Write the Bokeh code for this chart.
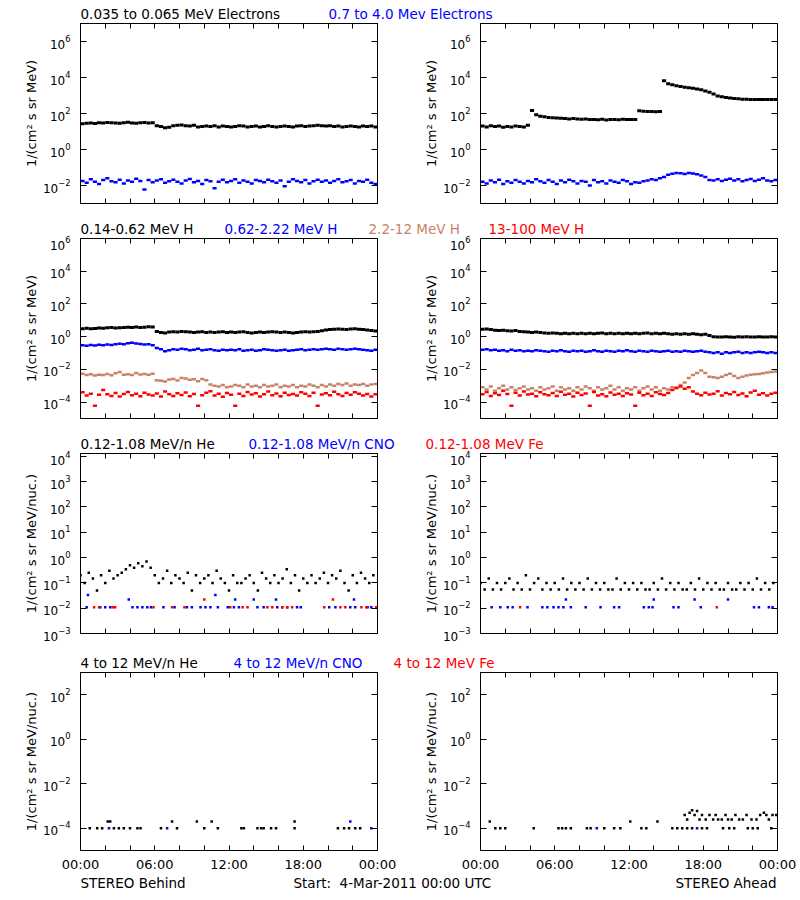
from bokeh.plotting import figure
from bokeh.models import FixedTicker, LinearAxis, LogAxis, Range1d
from bokeh.layouts import column, row
from bokeh.embed import file_html
from bokeh.resources import INLINE
from bokeh.core.properties import value

# ---------------- data (hours after 4-Mar-2011 00:00 UTC) ----------------
T20 = [i / 3 for i in range(72)]  # 20-minute cadence (start of each sample)
STEP = 1 / 3                      # sample length in hours

# Row 1: electrons, 1/(cm2 s sr MeV)
beh_e_low = [27, 29, 30, 28, 31, 30, 32, 31, 30, 29, 31, 33, 30, 29, 31, 32, 30, 31,
             21, 19, 16, 17, 21, 22, 23, 21, 20, 22, 18, 19, 20, 19, 21, 18, 20, 19,
             18, 19, 21, 20, 18, 19, 20, 18, 19, 21, 19, 18, 19, 20, 19, 18, 20, 21,
             19, 20, 21, 22, 21, 20, 21, 19, 20, 18, 19, 20, 19, 18, 20, 19, 20, 18]
beh_e_high = [0.018, 0.014, 0.022, 0.016, 0.012, 0.020, 0.025, 0.017, 0.015, 0.021, 0.013, 0.019,
              0.016, 0.024, 0.018, 0.006, 0.020, 0.015, 0.019, 0.022, 0.014, 0.017, 0.021, 0.016,
              0.013, 0.019, 0.023, 0.015, 0.018, 0.012, 0.020, 0.017, 0.007, 0.016, 0.021, 0.015,
              0.018, 0.022, 0.014, 0.019, 0.016, 0.013, 0.020, 0.018, 0.015, 0.021, 0.017, 0.014,
              0.019, 0.009, 0.016, 0.022, 0.018, 0.015, 0.020, 0.013, 0.017, 0.021, 0.016, 0.019,
              0.014, 0.018, 0.022, 0.015, 0.017, 0.020, 0.013, 0.018, 0.016, 0.021, 0.014, 0.012]
ahd_e_low = [20, 18, 21, 19, 20, 17, 19, 18, 20, 19, 18, 22,
             145, 85, 70, 65, 60, 58, 56, 55, 53, 50, 52, 49,
             48, 50, 46, 47, 45, 48, 44, 46, 47, 45, 48, 46,
             47, 46, 140, 135, 130, 128, 125, 130, 6500, 4500, 3900, 3500,
             3200, 2900, 2700, 2500, 2300, 2100, 1800, 1500, 1200, 950, 850, 780,
             720, 680, 650, 620, 610, 600, 605, 600, 598, 600, 602, 600]
ahd_e_high = [0.016, 0.013, 0.019, 0.015, 0.021, 0.012, 0.017, 0.014, 0.020, 0.016, 0.013, 0.018,
              0.015, 0.022, 0.017, 0.014, 0.020, 0.016, 0.012, 0.019, 0.015, 0.021, 0.017, 0.013,
              0.018, 0.016, 0.010, 0.020, 0.015, 0.017, 0.013, 0.019, 0.016, 0.014, 0.020, 0.017,
              0.012, 0.015, 0.014, 0.017, 0.019, 0.022, 0.020, 0.025, 0.030, 0.040, 0.045, 0.050,
              0.048, 0.044, 0.050, 0.046, 0.042, 0.036, 0.030, 0.020, 0.019, 0.022, 0.018, 0.021,
              0.024, 0.019, 0.022, 0.017, 0.020, 0.023, 0.018, 0.021, 0.025, 0.019, 0.017, 0.020]

# Row 2: protons, 1/(cm2 s sr MeV)
beh_h1 = [3.1, 3.3, 3.0, 3.2, 3.4, 3.3, 3.5, 3.6, 3.4, 3.5, 3.7, 3.8,
          3.6, 3.9, 3.7, 3.8, 4.0, 3.9, 2.1, 1.8, 1.7, 1.9, 2.0, 1.9,
          2.1, 2.0, 1.9, 1.8, 1.9, 2.0, 1.8, 1.9, 1.8, 1.9, 2.0, 1.8,
          1.9, 1.8, 1.9, 2.0, 1.8, 1.7, 1.8, 1.9, 1.8, 1.9, 2.0, 1.9,
          1.8, 1.9, 1.8, 1.7, 1.8, 1.9, 2.0, 1.9, 2.0, 2.1, 2.3, 2.6,
          2.7, 2.8, 2.9, 2.8, 2.7, 2.9, 3.0, 2.8, 2.7, 2.6, 2.4, 2.2]
beh_h2 = [0.30, 0.28, 0.31, 0.29, 0.32, 0.30, 0.33, 0.31, 0.35, 0.37, 0.34, 0.40,
          0.42, 0.38, 0.36, 0.33, 0.35, 0.30, 0.20, 0.17, 0.13, 0.15, 0.17, 0.16,
          0.18, 0.17, 0.15, 0.16, 0.18, 0.15, 0.16, 0.17, 0.15, 0.14, 0.16, 0.15,
          0.16, 0.15, 0.17, 0.14, 0.15, 0.16, 0.14, 0.15, 0.17, 0.16, 0.15, 0.14,
          0.15, 0.16, 0.14, 0.15, 0.16, 0.17, 0.15, 0.16, 0.17, 0.16, 0.17, 0.18,
          0.17, 0.16, 0.18, 0.17, 0.16, 0.17, 0.18, 0.17, 0.16, 0.15, 0.14, 0.16]
beh_h3 = [0.0055, 0.0045, 0.0050, 0.0042, 0.0048, 0.0046, 0.0052, 0.0044, 0.0058, 0.0070, 0.0047, 0.0051,
          0.0045, 0.0060, 0.0049, 0.0053, 0.0047, 0.0055, 0.0022, 0.0020, 0.0018, 0.0024, 0.0026, 0.0021,
          0.0030, 0.0028, 0.0023, 0.0025, 0.0019, 0.0026, 0.0022, 0.0012, 0.0010, 0.0009, 0.0011, 0.0008,
          0.0009, 0.0011, 0.0010, 0.0008, 0.0012, 0.0009, 0.0010, 0.0008, 0.0011, 0.0009, 0.0010, 0.0012,
          0.0008, 0.0010, 0.0009, 0.0011, 0.0008, 0.0010, 0.0009, 0.0012, 0.0010, 0.0008, 0.0011, 0.0009,
          0.0012, 0.0010, 0.0013, 0.0011, 0.0014, 0.0010, 0.0012, 0.0011, 0.0013, 0.0010, 0.0012, 0.0013]
beh_h4 = [4.0e-4, 2.5e-4, 3.2e-4, 6e-5, 2.8e-4, 5.5e-4, 3.0e-4, 2.4e-4, 3.6e-4, 2.2e-4, 3.1e-4, 4.2e-4,
          2.6e-4, 3.3e-4, 2.3e-4, 3.8e-4, 2.9e-4, 2.5e-4, 3.4e-4, 2.2e-4, 4.5e-4, 3.0e-4, 2.4e-4, 3.5e-4,
          2.7e-4, 3.9e-4, 2.3e-4, 3.1e-4, 6e-5, 2.6e-4, 3.7e-4, 4.6e-4, 2.5e-4, 3.2e-4, 2.1e-4, 3.6e-4,
          2.8e-4, 6e-5, 3.3e-4, 2.4e-4, 4.1e-4, 2.9e-4, 3.5e-4, 2.2e-4, 3.0e-4, 4.4e-4, 2.6e-4, 3.4e-4,
          2.3e-4, 3.8e-4, 2.7e-4, 3.1e-4, 2.5e-4, 4.0e-4, 3.2e-4, 2.4e-4, 3.7e-4, 6e-5, 2.9e-4, 3.5e-4,
          2.6e-4, 4.3e-4, 3.0e-4, 2.4e-4, 3.6e-4, 2.8e-4, 4.0e-4, 3.3e-4, 2.5e-4, 3.1e-4, 2.2e-4, 3.0e-4]
ahd_h1 = [2.8, 2.9, 2.7, 2.5, 2.4, 2.5, 2.3, 2.2, 2.4, 2.1, 2.0, 1.9,
          1.8, 1.9, 1.8, 1.7, 1.6, 1.7, 1.6, 1.5, 1.6, 1.5, 1.6, 1.5,
          1.6, 1.5, 1.6, 1.5, 1.6, 1.7, 1.5, 1.6, 1.5, 1.6, 1.5, 1.6,
          1.5, 1.6, 1.5, 1.6, 1.7, 1.5, 1.6, 1.5, 1.6, 1.5, 1.4, 1.5,
          1.4, 1.5, 1.4, 1.5, 1.4, 1.3, 1.4, 1.2, 1.0, 0.97, 0.95, 1.0,
          0.96, 0.93, 0.98, 0.95, 1.0, 0.94, 0.96, 0.98, 0.95, 0.97, 1.0, 0.96]
ahd_h2 = [0.16, 0.17, 0.15, 0.16, 0.14, 0.15, 0.13, 0.16, 0.14, 0.15, 0.13, 0.14,
          0.13, 0.15, 0.14, 0.13, 0.12, 0.14, 0.13, 0.15, 0.13, 0.12, 0.14, 0.13,
          0.14, 0.12, 0.13, 0.15, 0.13, 0.12, 0.14, 0.13, 0.12, 0.14, 0.13, 0.15,
          0.13, 0.12, 0.14, 0.13, 0.12, 0.14, 0.13, 0.12, 0.13, 0.14, 0.12, 0.13,
          0.12, 0.14, 0.13, 0.12, 0.13, 0.14, 0.12, 0.11, 0.10, 0.11, 0.09, 0.11,
          0.10, 0.11, 0.12, 0.10, 0.11, 0.10, 0.11, 0.12, 0.11, 0.10, 0.11, 0.10]
ahd_h3 = [8e-4, 6e-4, 9e-4, 5e-4, 7e-4, 1.0e-3, 6e-4, 8e-4, 5.5e-4, 7e-4, 9e-4, 6e-4,
          7e-4, 5e-4, 8e-4, 6e-4, 7e-4, 9e-4, 5e-4, 8e-4, 6e-4, 7e-4, 5e-4, 8e-4,
          6e-4, 9e-4, 7e-4, 5e-4, 8e-4, 6e-4, 7e-4, 1.0e-3, 6e-4, 8e-4, 5e-4, 7e-4,
          6e-4, 8e-4, 5e-4, 7e-4, 9e-4, 6e-4, 8e-4, 5e-4, 7e-4, 6e-4, 8e-4, 7e-4,
          1.1e-3, 1.6e-3, 3.0e-3, 4.5e-3, 6.0e-3, 8.5e-3, 6.0e-3, 3.6e-3, 3.3e-3, 3.0e-3, 3.5e-3, 4.5e-3,
          5.5e-3, 4.0e-3, 3.0e-3, 3.5e-3, 4.2e-3, 4.8e-3, 5.0e-3, 5.2e-3, 5.8e-3, 6.5e-3, 7.0e-3, 7.5e-3]
ahd_h4 = [3.0e-4, 4.2e-4, 2.4e-4, 3.5e-4, 2.7e-4, 5.0e-4, 3.1e-4, 6e-5, 3.8e-4, 2.5e-4, 4.4e-4, 2.9e-4,
          3.3e-4, 2.3e-4, 4.0e-4, 3.0e-4, 2.6e-4, 3.6e-4, 2.4e-4, 4.3e-4, 2.8e-4, 3.2e-4, 2.2e-4, 3.7e-4,
          2.7e-4, 3.4e-4, 6e-5, 4.1e-4, 2.5e-4, 3.0e-4, 2.3e-4, 3.9e-4, 2.8e-4, 3.3e-4, 2.4e-4, 3.5e-4,
          2.9e-4, 6e-5, 3.8e-4, 2.6e-4, 3.2e-4, 2.4e-4, 4.0e-4, 3.1e-4, 2.7e-4, 3.6e-4, 5.5e-4, 7.5e-4,
          9.0e-4, 6.5e-4, 8.0e-4, 4.5e-4, 3.2e-4, 2.6e-4, 3.8e-4, 2.9e-4, 3.3e-4, 4.6e-4, 2.5e-4, 3.6e-4,
          3.0e-4, 4.2e-4, 2.7e-4, 3.4e-4, 2.3e-4, 3.9e-4, 5.0e-4, 2.8e-4, 3.5e-4, 2.5e-4, 3.2e-4, 3.7e-4]

# Row 3: 0.12-1.08 MeV/n ions, 1/(cm2 s sr MeV/nuc.)
beh_he = [0.2, 0.1, 0.25, 0.15, 0.05, 0.2, 0.1, 0.3, 0.15, 0.2, 0.25, 0.35,
          0.5, 0.4, 0.6, 0.45, 0.7, 0.4, 0.2, 0.1, 0.15, 0.3, 0.1, 0.2,
          0.15, 0.1, 0.25, 0.05, 0.2, 0.1, 0.15, 0.2, 0.1, 0.3, 0.15, 0.1,
          0.05, 0.2, 0.1, 0.1, 0.15, 0.2, 0.1, 0.05, 0.25, 0.15, 0.1, 0.2,
          0.1, 0.15, 0.35, 0.1, 0.2, 0.05, 0.15, 0.1, 0.2, 0.1, 0.15, 0.25,
          0.1, 0.2, 0.15, 0.3, 0.1, 0.05, 0.2, 0.1, 0.25, 0.15, 0.1, 0.2]
beh_cno_t = [0.5, 0.6, 1.6, 2.0, 2.4, 3.9, 4.2, 4.6, 5.0, 5.4, 5.7, 6.7, 7.6, 8.6, 9.0, 9.7, 10.1,
             10.5, 10.9, 11.1, 11.9, 12.4, 12.5, 12.8, 14.0, 14.3, 14.8, 15.8, 15.9, 16.3, 16.7,
             17.5, 17.8, 20.1, 20.6, 21.8, 22.1, 22.2, 23.2, 23.5]
beh_cno_v = [0.011, 0.033, 0.011, 0.011, 0.011, 0.022, 0.011, 0.011, 0.011, 0.011, 0.011, 0.011,
             0.011, 0.011, 0.011, 0.011, 0.011, 0.011, 0.033, 0.011, 0.011, 0.011, 0.022, 0.011,
             0.022, 0.011, 0.011, 0.022, 0.011, 0.011, 0.011, 0.011, 0.011, 0.011, 0.011, 0.011,
             0.022, 0.011, 0.011, 0.011]
beh_fe_t = [1.1, 1.5, 2.6, 2.8, 5.9, 7.4, 8.4, 10.0, 12.1, 13.1, 13.5, 15.1, 15.5, 16.3, 16.7,
            17.1, 19.7, 20.4, 21.0, 21.4, 22.7, 23.1, 23.9]
beh_fe_v = [0.011, 0.011, 0.011, 0.011, 0.011, 0.011, 0.011, 0.022, 0.011, 0.011, 0.011, 0.011,
            0.011, 0.011, 0.011, 0.011, 0.011, 0.022, 0.011, 0.011, 0.011, 0.011, 0.011]
ahd_he = [0.1, 0.055, 0.15, 0.055, 0.1, 0.055, 0.1, 0.15, 0.055, 0.1, 0.055, 0.2,
          0.055, 0.1, 0.15, 0.055, 0.1, 0.055, 0.1, 0.055, 0.15, 0.055, 0.1, 0.055,
          0.1, 0.055, 0.15, 0.055, 0.1, 0.055, 0.1, 0.055, 0.055, 0.15, 0.055, 0.1,
          0.055, 0.1, 0.055, 0.1, 0.055, 0.055, 0.1, 0.055, 0.15, 0.055, 0.1, 0.055,
          0.1, 0.055, 0.055, 0.1, 0.055, 0.15, 0.055, 0.1, 0.055, 0.1, 0.055, 0.055,
          0.1, 0.055, 0.055, 0.1, 0.055, 0.1, 0.055, 0.15, 0.055, 0.1, 0.055, 0.1]
ahd_cno_t = [0.9, 1.6, 2.2, 2.6, 3.8, 5.0, 5.4, 5.9, 6.3, 6.7, 6.9, 7.3, 8.5, 9.7, 10.8, 11.2,
             13.2, 13.6, 13.9, 14.0, 15.6, 16.0, 17.3, 17.8, 20.0, 22.1, 22.5, 23.3, 23.6]
ahd_cno_v = [0.011, 0.011, 0.011, 0.011, 0.011, 0.011, 0.011, 0.011, 0.011, 0.011, 0.022, 0.011,
             0.011, 0.011, 0.011, 0.011, 0.011, 0.011, 0.011, 0.022, 0.011, 0.011, 0.022, 0.011,
             0.022, 0.011, 0.011, 0.011, 0.011]
ahd_fe_t = [3.2, 19.1]
ahd_fe_v = [0.011, 0.011]

# Row 4: 4-12 MeV/n ions, 1/(cm2 s sr MeV/nuc.)
beh_he4_t = [0.75, 1.35, 1.75, 2.2, 2.4, 2.7, 3.1, 3.5, 4.0, 4.6, 4.85, 6.5, 7.4, 7.8, 9.4, 10.0,
             10.6, 11.1, 13.0, 13.2, 14.3, 14.6, 14.8, 15.4, 15.8, 17.3, 17.3, 20.8, 21.3, 21.7,
             22.2, 22.6]
beh_he4_v = [1e-4, 1e-4, 1e-4, 2e-4, 2e-4, 1e-4, 1e-4, 1e-4, 1e-4, 1e-4, 1e-4, 1e-4, 2e-4, 1e-4,
             2e-4, 1e-4, 2e-4, 1e-4, 1e-4, 1e-4, 1e-4, 1e-4, 1e-4, 1e-4, 1e-4, 2e-4, 1e-4, 1e-4,
             1e-4, 1e-4, 1e-4, 1e-4]
beh_cno4_t = [2.3, 7.0, 21.8, 23.5]
beh_cno4_v = [1e-4, 1e-4, 2e-4, 1e-4]
ahd_he4_t = [0.75, 1.2, 1.6, 2.0, 4.3, 6.3, 6.6, 6.9, 7.3, 8.6, 8.9, 10.0, 10.8, 11.3, 12.1, 13.0,
             13.4, 14.3, 15.5, 15.9, 16.3, 16.7, 17.1, 17.9, 18.3, 19.6, 20.1, 20.5, 21.6, 22.0,
             22.4, 23.5,
             16.5, 16.7, 16.9, 17.1, 17.3, 17.5, 17.7, 17.9, 18.2, 18.5, 18.8, 19.0, 19.2, 19.5,
             19.8, 20.0, 20.3, 20.6, 20.9, 21.2, 21.5, 21.9, 22.3, 22.6, 22.9, 23.1, 23.3, 23.6, 23.9]
ahd_he4_v = [2e-4, 1e-4, 1e-4, 1e-4, 1e-4, 1e-4, 1e-4, 1e-4, 1e-4, 1e-4, 1e-4, 1e-4, 1e-4, 1e-4,
             2e-4, 1e-4, 1e-4, 2e-4, 1e-4, 1e-4, 1e-4, 1e-4, 1e-4, 1e-4, 1e-4, 1e-4, 1e-4, 1e-4,
             1e-4, 1e-4, 1e-4, 1e-4,
             3.9e-4, 2.5e-4, 5e-4, 6.5e-4, 3.9e-4, 6e-4, 2.5e-4, 3.9e-4, 2.5e-4, 3.9e-4, 2.5e-4,
             3.9e-4, 2.5e-4, 2.5e-4, 3.9e-4, 2.5e-4, 2.5e-4, 3.9e-4, 2.5e-4, 2.5e-4, 3.9e-4,
             2.5e-4, 2.5e-4, 3.9e-4, 5e-4, 3.9e-4, 2.5e-4, 3.9e-4, 3.9e-4]
ahd_cno4_t = [9.4, 17.5]
ahd_cno4_v = [1e-4, 1e-4]

# axis ticks and labels
HOUR_TICKS = [0, 6, 12, 18, 24]
HOUR_MINOR = [2, 4, 8, 10, 14, 16, 20, 22]
HOUR_LABELS = ["00:00", "06:00", "12:00", "18:00", "00:00"]
ROW_YRANGE = [(1e-3, 1e7), (1e-5, 1e6), (1e-3, 1.3e4), (1e-5, 1e3)]
ROW_YTICKS = [[1e-2, 1e0, 1e2, 1e4, 1e6],
              [1e-4, 1e-2, 1e0, 1e2, 1e4, 1e6],
              [1e-3, 1e-2, 1e-1, 1e0, 1e1, 1e2, 1e3, 1e4],
              [1e-4, 1e-2, 1e0, 1e2]]
YLAB_E = "1/(cm\u00b2 s sr MeV)"
YLAB_N = "1/(cm\u00b2 s sr MeV/nuc.)"

ROW_TITLES = [
    [("0.035 to 0.065 MeV Electrons", "black"), ("0.7 to 4.0 Mev Electrons", "blue")],
    [("0.14-0.62 MeV H", "black"), ("0.62-2.22 MeV H", "blue"), ("2.2-12 MeV H", "brown"), ("13-100 MeV H", "red")],
    [("0.12-1.08 MeV/n He", "black"), ("0.12-1.08 MeV/n CNO", "blue"), ("0.12-1.08 MeV Fe", "red")],
    [("4 to 12 MeV/n He", "black"), ("4 to 12 MeV/n CNO", "blue"), ("4 to 12 MeV Fe", "red")],
]
FOOTER = [("STEREO Behind", "left"), ("Start:\u00a0 4-Mar-2011 00:00 UTC", "left"), ("STEREO Ahead", "right")]

# ---------------- styling / layout (page is drawn from the window's top-left corner) ----------------
FONT = "DejaVu Sans"
COL = {"black": "#000000", "blue": "#0000FF", "brown": "#C8826A", "red": "#FF0000"}
TITLE_X = [[80, 328], [80, 224, 368, 488], [80, 248, 425], [80, 233, 393]]
FOOTER_X = [80, 293, 776]
TOP_PAD = 3
STRIP_H = [20, 20, 20, 19]
ROW_H = [195, 195, 200, 205]
ROW_BOTTOM = [12, 12, 17, 22]
FOOT_H = 18
FIG_W = 400
FRAME_LEFT = 80
FRAME_W = 297


def hide_labels(axis):
    axis.major_label_text_font_size = "1px"
    axis.major_label_text_alpha = 0
    axis.major_label_standoff = 0


def make_panel(col, r):
    ylo, yhi = ROW_YRANGE[r]
    p = figure(width=FIG_W, height=ROW_H[r], y_axis_type="log",
               x_range=Range1d(0, 24), y_range=Range1d(ylo, yhi),
               output_backend="svg", toolbar_location=None,
               min_border_left=FRAME_LEFT, min_border_right=FIG_W - FRAME_LEFT - FRAME_W,
               min_border_top=TOP_PAD, min_border_bottom=ROW_BOTTOM[r],
               background_fill_color="white", border_fill_color="white")
    p.xgrid.visible = False
    p.ygrid.visible = False
    p.outline_line_color = "black"
    p.outline_line_width = 1

    xt = FixedTicker(ticks=HOUR_TICKS, minor_ticks=HOUR_MINOR)
    xa = p.below[0]
    xa.ticker = xt
    xa.axis_line_color = "black"
    xa.major_tick_line_color = "black"
    xa.minor_tick_line_color = "black"
    xa.major_tick_in = 5
    xa.major_tick_out = 0
    xa.minor_tick_in = 5
    xa.minor_tick_out = 0
    if r == 3:
        xa.major_label_overrides = {t: lab for t, lab in zip(HOUR_TICKS, HOUR_LABELS)}
        xa.major_label_text_font = FONT
        xa.major_label_text_font_size = "13px"
        xa.major_label_text_color = "black"
        xa.major_label_standoff = 6
    else:
        hide_labels(xa)

    top = LinearAxis(ticker=xt, major_tick_in=5, major_tick_out=0, minor_tick_in=5, minor_tick_out=0,
                     axis_line_color="black", major_tick_line_color="black",
                     minor_tick_line_color="black")
    hide_labels(top)
    p.add_layout(top, "above")

    yt = FixedTicker(ticks=ROW_YTICKS[r], minor_ticks=[])
    ya = p.yaxis[0]
    ya.ticker = yt
    ya.axis_line_color = "black"
    ya.major_tick_line_color = "black"
    ya.major_tick_in = 6
    ya.major_tick_out = 0
    ya.minor_tick_in = 0
    ya.minor_tick_out = 0
    ya.major_label_text_font = FONT
    ya.major_label_text_font_size = "12px"
    ya.major_label_text_color = "black"
    ya.major_label_standoff = 10
    ya.axis_label = YLAB_E if r < 2 else YLAB_N
    ya.axis_label_text_font = FONT
    ya.axis_label_text_font_size = "13px"
    ya.axis_label_text_font_style = "normal"
    ya.axis_label_text_color = "black"
    ya.axis_label_standoff = 1

    ra = LogAxis(ticker=yt, major_tick_in=6, major_tick_out=0, minor_tick_in=0, minor_tick_out=0,
                 axis_line_color="black", major_tick_line_color="black")
    hide_labels(ra)
    p.add_layout(ra, "right")
    return p


def band(p, y, color, thick=3):
    """One short horizontal run per 20-minute sample (densely sampled series)."""
    xc = [t + STEP / 2 for t in T20]
    p.rect(x=xc, y=y, width=STEP, height=thick, height_units="screen",
           fill_color=COL[color], line_color=None)


def dots(p, x, y, color, size=2.5):
    p.scatter(x=x, y=y, marker="square", size=size, fill_color=COL[color], line_color=None)


def strip(height, items):
    s = figure(width=2 * FIG_W, height=height, x_range=Range1d(0, 2 * FIG_W), y_range=Range1d(height, 0),
               output_backend="svg", toolbar_location=None, min_border=0,
               x_axis_location=None, y_axis_location=None, outline_line_color=None,
               background_fill_color="white", border_fill_color="white")
    s.xgrid.visible = False
    s.ygrid.visible = False
    for txt, color, x, y, align in items:
        s.text(x=[x], y=[y], text=[txt], text_color=COL[color], text_font=value(FONT),
               text_font_size="13.5px", text_align=align, text_baseline="middle")
    return s


panels = [[make_panel(c, r) for c in range(2)] for r in range(4)]

# row 1
band(panels[0][0], beh_e_low, "black", 3)
band(panels[0][0], beh_e_high, "blue", 2.5)
band(panels[0][1], ahd_e_low, "black", 3)
band(panels[0][1], ahd_e_high, "blue", 2.5)
# row 2
for p, series in ((panels[1][0], (beh_h1, beh_h2, beh_h3, beh_h4)),
                  (panels[1][1], (ahd_h1, ahd_h2, ahd_h3, ahd_h4))):
    for vals, color in zip(series, ("black", "blue", "brown", "red")):
        band(p, vals, color, 3 if color == "black" else 2.5)
# row 3
dots(panels[2][0], T20, beh_he, "black")
dots(panels[2][0], beh_cno_t, beh_cno_v, "blue")
dots(panels[2][0], beh_fe_t, beh_fe_v, "red")
dots(panels[2][1], T20, ahd_he, "black")
dots(panels[2][1], ahd_cno_t, ahd_cno_v, "blue")
dots(panels[2][1], ahd_fe_t, ahd_fe_v, "red")
# row 4
dots(panels[3][0], beh_he4_t, beh_he4_v, "black")
dots(panels[3][0], beh_cno4_t, beh_cno4_v, "blue")
dots(panels[3][1], ahd_he4_t, ahd_he4_v, "black")
dots(panels[3][1], ahd_cno4_t, ahd_cno4_v, "blue")

children = []
for r in range(4):
    h = STRIP_H[r]
    items = [(t, c, x, h - 7, "left") for (t, c), x in zip(ROW_TITLES[r], TITLE_X[r])]
    children.append(strip(h, items))
    children.append(row(panels[r][0], panels[r][1]))

foot_items = [(t, "black", x, 8, a) for (t, a), x in zip(FOOTER, FOOTER_X)]
children.append(strip(FOOT_H, foot_items))

layout = column(*children)
open("out.html", "w").write(file_html(layout, INLINE))
